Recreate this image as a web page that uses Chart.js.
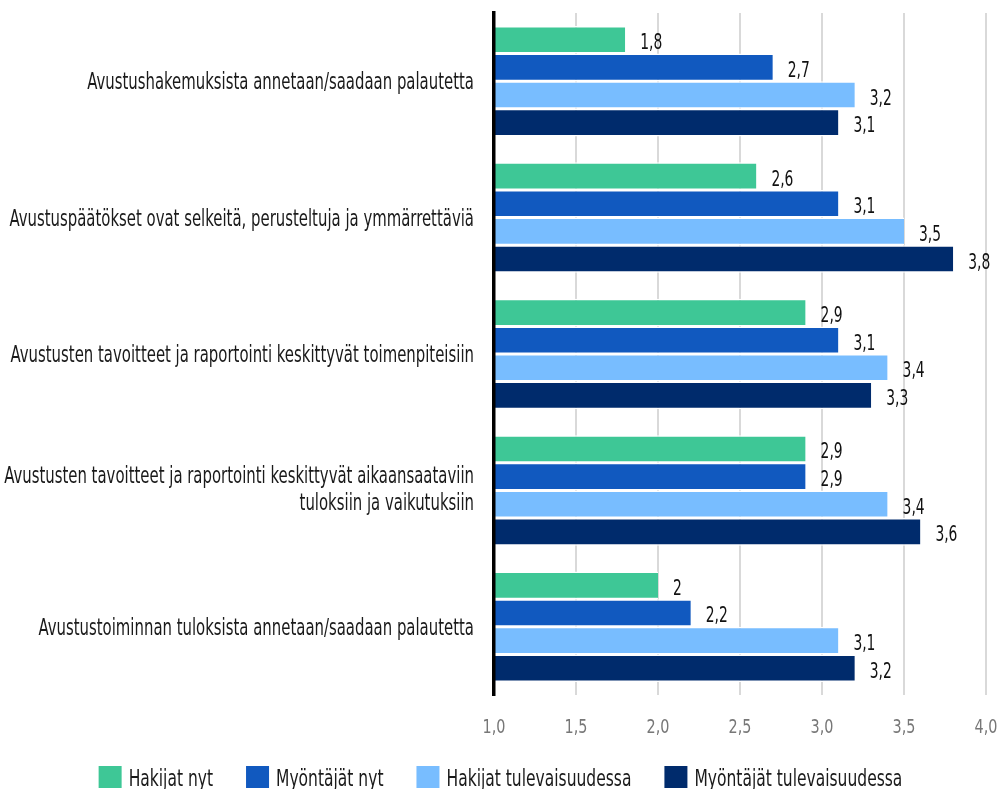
<!DOCTYPE html>
<html>
<head>
<meta charset="utf-8">
<script src="https://cdn.jsdelivr.net/npm/chart.js@4"></script>
<style>
  html, body { margin: 0; padding: 0; background: #fff; }
  #wrap { width: 1000px; height: 789px; }
</style>
</head>
<body>
<div id="wrap"><canvas id="chart"></canvas></div>
<script>
const categories = [
  'Avustushakemuksista annetaan/saadaan palautetta',
  'Avustuspäätökset ovat selkeitä, perusteltuja ja ymmärrettäviä',
  'Avustusten tavoitteet ja raportointi keskittyvät toimenpiteisiin',
  ['Avustusten tavoitteet ja raportointi keskittyvät aikaansaataviin', 'tuloksiin ja vaikutuksiin'],
  'Avustustoiminnan tuloksista annetaan/saadaan palautetta'
];
const seriesNames = ['Hakijat nyt', 'Myöntäjät nyt', 'Hakijat tulevaisuudessa', 'Myöntäjät tulevaisuudessa'];
const hakijatNyt = [1.8, 2.6, 2.9, 2.9, 2.0];
const myontajatNyt = [2.7, 3.1, 3.1, 2.9, 2.2];
const hakijatTulevaisuudessa = [3.2, 3.5, 3.4, 3.4, 3.1];
const myontajatTulevaisuudessa = [3.1, 3.8, 3.3, 3.6, 3.2];
const colors = ['#3ec796', '#1159bf', '#78bdff', '#002b6c'];

const FONT = '"Liberation Sans Narrow", "DejaVu Sans Condensed", sans-serif';
const SQUEEZE = 0.72; // the original font is a narrow condensed face

// text with horizontal squeeze
function squeezedText(ctx, txt, x, y, sx, align) {
  ctx.save();
  ctx.translate(x, y);
  ctx.scale(sx, 1);
  ctx.textAlign = align;
  ctx.fillText(txt, 0, 0);
  ctx.restore();
}

const textLayer = {
  id: 'textLayer',
  afterDraw(chart) {
    const ctx = chart.ctx;
    const xs = chart.scales.x;
    const ys = chart.scales.y;
    ctx.save();
    ctx.textBaseline = 'alphabetic';

    // category labels
    ctx.font = '23px ' + FONT;
    ctx.fillStyle = '#1a1a1a';
    chart.data.labels.forEach(function (lab, i) {
      let yc = ys.getPixelForValue(i);
      if (Array.isArray(lab)) {
        squeezedText(ctx, lab[0], 474, yc - 7, SQUEEZE, 'right');
        squeezedText(ctx, lab[1], 474, yc + 20, SQUEEZE, 'right');
      } else {
        squeezedText(ctx, lab, 474, yc + 8, SQUEEZE, 'right');
      }
    });

    // value labels
    ctx.font = '22px ' + FONT;
    ctx.fillStyle = '#111';
    chart.data.datasets.forEach(function (ds, i) {
      chart.getDatasetMeta(i).data.forEach(function (bar, j) {
        let txt = String(ds.data[j]).replace('.', ',');
        squeezedText(ctx, txt, bar.x + 15, bar.y + 9.5, 0.7, 'left');
      });
    });

    // x tick labels
    ctx.font = '20px ' + FONT;
    ctx.fillStyle = '#777777';
    xs.ticks.forEach(function (t) {
      let txt = t.value.toFixed(1).replace('.', ',');
      squeezedText(ctx, txt, xs.getPixelForValue(t.value), 733, 0.8, 'center');
    });

    // legend
    ctx.font = '23px ' + FONT;
    let items = chart.data.datasets.map(function (ds) {
      return { label: ds.label, color: ds.backgroundColor, w: ctx.measureText(ds.label).width * 0.75 };
    });
    let total = 0;
    items.forEach(function (it, i) { total += 30 + it.w + (i > 0 ? 33 : 0); });
    let x = 500.5 - total / 2;
    items.forEach(function (it) {
      ctx.fillStyle = it.color;
      ctx.fillRect(x, 766, 23, 22);
      ctx.fillStyle = '#1a1a1a';
      squeezedText(ctx, it.label, x + 30, 786, 0.75, 'left');
      x += 30 + it.w + 33;
    });
    ctx.restore();
  }
};

const dataSets = [hakijatNyt, myontajatNyt, hakijatTulevaisuudessa, myontajatTulevaisuudessa];

new Chart(document.getElementById('chart'), {
  type: 'bar',
  data: {
    labels: categories,
    datasets: dataSets.map(function (d, i) {
      return {
        label: seriesNames[i],
        data: d,
        backgroundColor: colors[i],
        borderColor: '#ffffff',
        borderWidth: { top: 1.5, bottom: 1.5, left: 0, right: 0 },
        borderSkipped: false,
        categoryPercentage: 0.81,
        barPercentage: 1.0
      };
    })
  },
  plugins: [textLayer],
  options: {
    indexAxis: 'y',
    responsive: true,
    maintainAspectRatio: false,
    animation: false,
    layout: { padding: { top: 13, right: 14, left: 0, bottom: 0 } },
    plugins: {
      legend: { display: false },
      tooltip: { enabled: false }
    },
    scales: {
      x: {
        min: 1,
        max: 4,
        afterFit: function (scale) { scale.height = 94; },
        ticks: { stepSize: 0.5, display: false },
        grid: { color: '#d9d9d9', lineWidth: 2, drawTicks: false },
        border: { display: false }
      },
      y: {
        afterFit: function (scale) { scale.width = 494; },
        ticks: { display: false },
        grid: { display: false },
        border: { color: '#000', width: 3.5, z: 1 }
      }
    }
  }
});
</script>
</body>
</html>
